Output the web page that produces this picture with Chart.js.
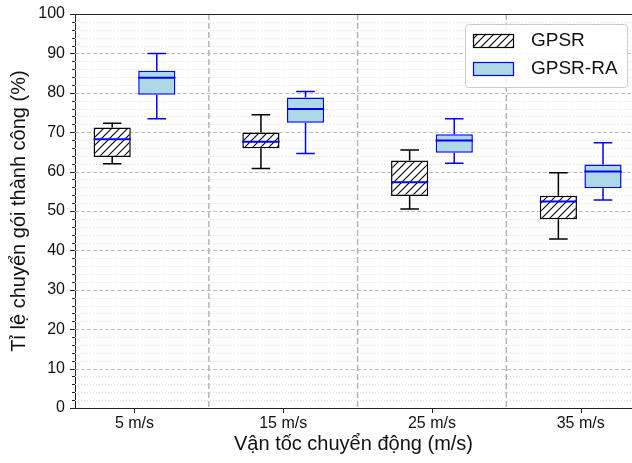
<!DOCTYPE html>
<html>
<head>
<meta charset="utf-8">
<script src="https://cdn.jsdelivr.net/npm/chart.js@4"></script>
<style>
  html, body { margin: 0; padding: 0; background: #fff; }
  #c { display: block; }
</style>
</head>
<body>
<canvas id="c" width="632" height="463"></canvas>
<script>
// ---- data ----
const categories = ['5 m/s', '15 m/s', '25 m/s', '35 m/s'];
const seriesNames = ['GPSR', 'GPSR-RA'];
const gpsrMin = [62.0, 60.8, 50.5, 42.9];
const gpsrQ1  = [63.7, 65.9, 53.8, 47.9];
const gpsrMed = [68.2, 67.6, 57.3, 52.4];
const gpsrQ3  = [71.2, 69.9, 62.8, 53.9];
const gpsrMax = [72.3, 74.4, 65.5, 59.7];
const raMin = [73.4, 64.6, 62.1, 52.8];
const raQ1  = [79.5, 72.4, 64.8, 55.8];
const raMed = [83.8, 75.9, 67.9, 60.0];
const raQ3  = [85.6, 78.8, 69.5, 61.8];
const raMax = [90.0, 80.3, 73.4, 67.3];
const yTickValues = [0, 10, 20, 30, 40, 50, 60, 70, 80, 90, 100];
const yMinorStep = 2;

const FONT = "'Liberation Sans', Arial, sans-serif";
const canvas = document.getElementById('c');
const mainCtx = canvas.getContext('2d');

function makeHatch() {
  const s = 8;
  const c = document.createElement('canvas');
  c.width = s; c.height = s;
  const g = c.getContext('2d');
  g.fillStyle = '#ffffff';
  g.fillRect(0, 0, s, s);
  g.strokeStyle = '#000000';
  g.lineWidth = 1.1;
  g.beginPath();
  g.moveTo(-1, s + 1); g.lineTo(s + 1, -1);
  g.moveTo(-1, 1); g.lineTo(1, -1);
  g.moveTo(s - 1, s + 1); g.lineTo(s + 1, s - 1);
  g.stroke();
  return mainCtx.createPattern(c, 'repeat');
}
const hatch = makeHatch();

function boxData(q1, q3) {
  return categories.map((c, i) => ({ x: i + 1, y: [q1[i], q3[i]] }));
}

const stats = [
  { min: gpsrMin, med: gpsrMed, max: gpsrMax, line: '#000000', med_c: '#0000ff' },
  { min: raMin, med: raMed, max: raMax, line: '#0000ff', med_c: '#0000ff' }
];

const gridPlugin = {
  id: 'gridPlugin',
  beforeDatasetsDraw(chart) {
    const { ctx, chartArea: a, scales: { x, y } } = chart;
    ctx.save();
    ctx.lineWidth = 1;
    for (let v = 0; v <= 100; v += yMinorStep) {
      if (v % 10 === 0) continue;
      const py = Math.round(y.getPixelForValue(v)) + 0.5;
      ctx.strokeStyle = '#dcdcdc';
      ctx.setLineDash([1, 2]);
      ctx.beginPath(); ctx.moveTo(a.left, py); ctx.lineTo(a.right, py); ctx.stroke();
    }
    yTickValues.forEach(v => {
      if (v === 0 || v === 100) return;
      const py = Math.round(y.getPixelForValue(v)) + 0.5;
      ctx.strokeStyle = '#c0c0c0';
      ctx.setLineDash([4, 2]);
      ctx.beginPath(); ctx.moveTo(a.left, py); ctx.lineTo(a.right, py); ctx.stroke();
    });
    for (let i = 1; i < categories.length; i++) {
      const px = x.getPixelForValue(i + 0.5);
      ctx.strokeStyle = '#b4b4b4';
      ctx.lineWidth = 1.5;
      ctx.setLineDash([6, 3]);
      ctx.beginPath(); ctx.moveTo(px, a.top); ctx.lineTo(px, a.bottom); ctx.stroke();
    }
    ctx.restore();
  },
  afterDatasetsDraw(chart) {
    const { ctx, scales: { y } } = chart;
    ctx.save();
    chart.data.datasets.forEach((ds, di) => {
      const meta = chart.getDatasetMeta(di);
      const st = stats[di];
      meta.data.forEach((el, i) => {
        const w = el.width;
        const cx = el.x;
        const q3p = y.getPixelForValue(ds.data[i].y[1]);
        const q1p = y.getPixelForValue(ds.data[i].y[0]);
        const maxp = y.getPixelForValue(st.max[i]);
        const minp = y.getPixelForValue(st.min[i]);
        const medp = y.getPixelForValue(st.med[i]);
        ctx.strokeStyle = st.line;
        ctx.lineWidth = 1.5;
        ctx.setLineDash([]);
        ctx.beginPath();
        ctx.moveTo(cx, q3p); ctx.lineTo(cx, maxp);
        ctx.moveTo(cx, q1p); ctx.lineTo(cx, minp);
        ctx.moveTo(cx - w / 4, maxp); ctx.lineTo(cx + w / 4, maxp);
        ctx.moveTo(cx - w / 4, minp); ctx.lineTo(cx + w / 4, minp);
        ctx.stroke();
        ctx.strokeStyle = st.med_c;
        ctx.lineWidth = 2;
        ctx.beginPath();
        ctx.moveTo(cx - w / 2, medp); ctx.lineTo(cx + w / 2, medp);
        ctx.stroke();
      });
    });
    ctx.restore();
  },
  afterDraw(chart) {
    const { ctx, chartArea: a, scales: { x, y } } = chart;
    ctx.save();
    ctx.strokeStyle = '#222';
    ctx.lineWidth = 1;
    ctx.setLineDash([]);
    ctx.beginPath(); ctx.moveTo(a.left, a.top + 0.5); ctx.lineTo(a.right, a.top + 0.5); ctx.stroke();
    for (let v = 0; v <= 100; v += yMinorStep) {
      const py = Math.round(y.getPixelForValue(v)) + 0.5;
      const len = v % 10 === 0 ? 5 : 3;
      ctx.beginPath(); ctx.moveTo(a.left - len, py); ctx.lineTo(a.left, py); ctx.stroke();
    }
    categories.forEach((c, i) => {
      const px = Math.round(x.getPixelForValue(i + 1)) + 0.5;
      ctx.beginPath(); ctx.moveTo(px, a.bottom); ctx.lineTo(px, a.bottom + 5); ctx.stroke();
    });
    const lx = 465, ly = 24, lw = 162, lh = 63;
    ctx.fillStyle = 'rgba(255,255,255,0.85)';
    ctx.strokeStyle = '#cccccc';
    ctx.beginPath();
    ctx.roundRect(lx + 0.5, ly + 0.5, lw, lh, 3);
    ctx.fill(); ctx.stroke();
    chart.data.datasets.forEach((ds, di) => {
      const sy = 34 + di * 28;
      ctx.fillStyle = ds.backgroundColor;
      ctx.fillRect(473, sy, 41, 14);
      ctx.strokeStyle = ds.borderColor;
      ctx.lineWidth = 1.2;
      ctx.strokeRect(473.5, sy + 0.5, 40, 13);
      ctx.fillStyle = '#111';
      ctx.font = '19px ' + FONT;
      ctx.textBaseline = 'middle';
      ctx.textAlign = 'left';
      ctx.fillText(ds.label, 531, sy + 7);
    });
    ctx.restore();
  }
};

new Chart(canvas, {
  type: 'bar',
  data: {
    datasets: [
      {
        label: seriesNames[0],
        data: boxData(gpsrQ1, gpsrQ3),
        backgroundColor: hatch,
        borderColor: '#000000',
        borderWidth: 1.5,
        borderSkipped: false
      },
      {
        label: seriesNames[1],
        data: boxData(raQ1, raQ3),
        backgroundColor: '#add8e6',
        borderColor: '#0000ff',
        borderWidth: 1.5,
        borderSkipped: false
      }
    ]
  },
  options: {
    responsive: false,
    animation: false,
    devicePixelRatio: 1,
    categoryPercentage: 0.6,
    barPercentage: 0.833,
    layout: { padding: { top: 14, right: 0, bottom: 0, left: 0 } },
    plugins: { legend: { display: false }, tooltip: { enabled: false } },
    scales: {
      x: {
        type: 'linear',
        min: 0.6,
        max: 4.345,
        offset: false,
        grid: { display: false, drawTicks: false, offset: false },
        border: { display: true, color: '#222', width: 1 },
        afterBuildTicks(s) { s.ticks = categories.map((c, i) => ({ value: i + 1 })); },
        afterFit(s) { s.height = 55; s.paddingLeft = 0; s.paddingRight = 0; },
        ticks: {
          padding: 6,
          color: '#111',
          font: { family: FONT, size: 16 },
          maxRotation: 0,
          autoSkip: false,
          callback: (v) => categories[Math.round(v) - 1]
        },
        title: {
          display: true,
          text: 'Vận tốc chuyển động (m/s)',
          color: '#111',
          font: { family: FONT, size: 20 },
          padding: { top: 0, bottom: 7 }
        }
      },
      y: {
        type: 'linear',
        min: 0,
        max: 100,
        grid: { display: false, drawTicks: false },
        border: { display: true, color: '#222', width: 1 },
        afterBuildTicks(s) { s.ticks = yTickValues.map(v => ({ value: v })); },
        afterFit(s) { s.width = 75; s.paddingTop = 0; s.paddingBottom = 0; },
        ticks: {
          padding: 10,
          color: '#111',
          font: { family: FONT, size: 16 },
          autoSkip: false
        },
        title: {
          display: true,
          text: 'Tỉ lệ chuyển gói thành công (%)',
          color: '#111',
          font: { family: FONT, size: 20 },
          padding: { top: 7, bottom: 0 }
        }
      }
    }
  },
  plugins: [gridPlugin]
});
</script>
</body>
</html>
